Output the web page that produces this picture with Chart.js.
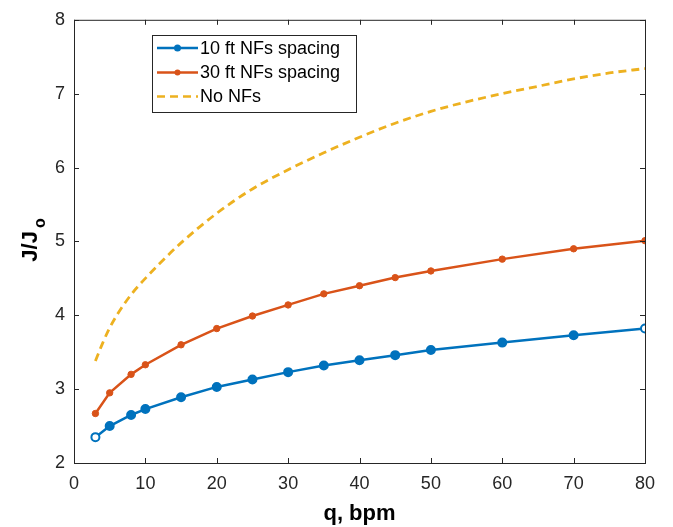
<!DOCTYPE html>
<html>
<head>
<meta charset="utf-8">
<script src="https://cdn.jsdelivr.net/npm/chart.js@4/dist/chart.umd.min.js"></script>
<style>
html,body{margin:0;padding:0;background:#fff;}
#wrap{width:673px;height:527px;position:relative;}
</style>
</head>
<body>
<div id="wrap"><canvas id="c" width="673" height="527"></canvas></div>
<script>
const qNF = [3, 5, 8, 10, 15, 20, 25, 30, 35, 40, 45, 50, 60, 70, 80];
const spacing10 = [2.35, 2.50, 2.65, 2.73, 2.89, 3.03, 3.13, 3.23, 3.32, 3.39, 3.46, 3.53, 3.63, 3.73, 3.82];
const spacing30 = [2.67, 2.95, 3.20, 3.33, 3.60, 3.82, 3.99, 4.14, 4.29, 4.40, 4.51, 4.60, 4.76, 4.90, 5.01];
const qNo = [3, 4, 5, 6, 8, 10, 12, 15, 20, 25, 30, 35, 40, 45, 50, 55, 60, 65, 70, 75, 80];
const noNF = [3.38, 3.62, 3.83, 4.00, 4.28, 4.50, 4.70, 4.98, 5.38, 5.71, 5.97, 6.20, 6.41, 6.60, 6.76, 6.89, 7.00, 7.10, 7.20, 7.28, 7.34];
const xTicks = [0, 10, 20, 30, 40, 50, 60, 70, 80];
const yTicks = [2, 3, 4, 5, 6, 7, 8];
const seriesNames = ['10 ft NFs spacing', '30 ft NFs spacing', 'No NFs'];
const yTitleMain = 'J/J';
const yTitleSub = 'o';
const xTitle = 'q, bpm';

const BLUE = '#0072BD', ORANGE = '#D95319', YELLOW = '#EDB120';
const FONT = '"Liberation Sans", Arial, sans-serif';
const pts = (xs, ys) => xs.map((x, i) => ({x: x, y: ys[i]}));

const blueFill = qNF.map((_, i) => (i === 0 || i === qNF.length - 1) ? '#ffffff' : BLUE);

const boxPlugin = {
  id: 'boxPlugin',
  afterDatasetsDraw(chart) {
    const {ctx, chartArea: a, scales} = chart;
    ctx.save();
    ctx.strokeStyle = '#262626';
    ctx.lineWidth = 1;
    ctx.strokeRect(a.left + 0.5, a.top + 0.5, a.right - a.left, a.bottom - a.top);
    const L = 5;
    ctx.beginPath();
    xTicks.forEach(v => {
      const x = Math.round(scales.x.getPixelForValue(v)) + 0.5;
      ctx.moveTo(x, a.bottom); ctx.lineTo(x, a.bottom - L);
      ctx.moveTo(x, a.top); ctx.lineTo(x, a.top + L);
    });
    yTicks.forEach(v => {
      const y = Math.round(scales.y.getPixelForValue(v)) + 0.5;
      ctx.moveTo(a.left, y); ctx.lineTo(a.left + L, y);
      ctx.moveTo(a.right, y); ctx.lineTo(a.right - L, y);
    });
    ctx.stroke();

    // legend
    const lx = 152, ly = 35, lw = 204, lh = 77;
    ctx.fillStyle = '#ffffff';
    ctx.fillRect(lx, ly, lw, lh);
    ctx.strokeStyle = '#262626';
    ctx.strokeRect(lx + 0.5, ly + 0.5, lw, lh);
    const rows = [48, 72.5, 96.5];
    const cols = [BLUE, ORANGE, YELLOW];
    rows.forEach((ry, i) => {
      ctx.beginPath();
      ctx.strokeStyle = cols[i];
      ctx.lineWidth = 2.5;
      ctx.setLineDash(i === 2 ? [8, 5] : []);
      ctx.moveTo(157, ry); ctx.lineTo(198, ry);
      ctx.stroke();
      ctx.setLineDash([]);
      if (i < 2) {
        ctx.beginPath();
        ctx.fillStyle = cols[i];
        ctx.arc(177.5, ry, i === 0 ? 3.5 : 3, 0, Math.PI * 2);
        ctx.fill();
      }
      ctx.fillStyle = '#000000';
      ctx.font = '18px ' + FONT;
      ctx.textBaseline = 'middle';
      ctx.textAlign = 'left';
      ctx.fillText(seriesNames[i], 200, ry + 1);
    });

    // y title with subscript
    ctx.save();
    ctx.translate(37, 240);
    ctx.rotate(-Math.PI / 2);
    ctx.fillStyle = '#000';
    ctx.textBaseline = 'alphabetic';
    ctx.font = 'bold 22px ' + FONT;
    const w1 = ctx.measureText(yTitleMain).width;
    ctx.font = 'bold 16px ' + FONT;
    const w2 = ctx.measureText(yTitleSub).width;
    const start = -(w1 + w2 + 3) / 2;
    ctx.font = 'bold 22px ' + FONT;
    ctx.textAlign = 'left';
    ctx.fillText(yTitleMain, start, 0);
    ctx.font = 'bold 16px ' + FONT;
    ctx.fillText(yTitleSub, start + w1 + 3, 8);
    ctx.restore();

    // x title
    ctx.fillStyle = '#000';
    ctx.font = 'bold 22px ' + FONT;
    ctx.textAlign = 'center';
    ctx.textBaseline = 'alphabetic';
    ctx.fillText(xTitle, (a.left + a.right) / 2, 520);
    ctx.restore();
  }
};

new Chart(document.getElementById('c'), {
  type: 'scatter',
  data: {
    datasets: [
      {
        label: seriesNames[0],
        data: pts(qNF, spacing10),
        showLine: true,
        borderColor: BLUE,
        borderWidth: 2.5,
        pointBackgroundColor: blueFill,
        pointBorderColor: BLUE,
        pointBorderWidth: 2,
        pointRadius: 4,
        tension: 0
      },
      {
        label: seriesNames[1],
        data: pts(qNF, spacing30),
        showLine: true,
        borderColor: ORANGE,
        borderWidth: 2.5,
        pointBackgroundColor: ORANGE,
        pointBorderColor: ORANGE,
        pointRadius: 3.2,
        pointBorderWidth: 1,
        tension: 0
      },
      {
        label: seriesNames[2],
        data: pts(qNo, noNF),
        showLine: true,
        borderColor: YELLOW,
        borderWidth: 2.8,
        borderDash: [8, 5],
        pointRadius: 0,
        cubicInterpolationMode: 'monotone'
      }
    ]
  },
  options: {
    responsive: false,
    animation: false,
    layout: {padding: {left: 0, top: 14, right: 28, bottom: 0}},
    plugins: {legend: {display: false}, tooltip: {enabled: false}},
    scales: {
      x: {
        type: 'linear', min: 0, max: 80,
        afterBuildTicks: s => { s.ticks = xTicks.map(v => ({value: v})); },
        afterFit: s => { s.height = 64; },
        grid: {display: false, drawTicks: false},
        border: {display: false},
        ticks: {color: '#262626', font: {size: 18, family: FONT}, padding: 10, maxRotation: 0}
      },
      y: {
        type: 'linear', min: 2, max: 8,
        afterBuildTicks: s => { s.ticks = yTicks.map(v => ({value: v})); },
        afterFit: s => { s.width = 74; },
        grid: {display: false, drawTicks: false},
        border: {display: false},
        ticks: {color: '#262626', font: {size: 18, family: FONT}, padding: 9}
      }
    }
  },
  plugins: [boxPlugin]
});
</script>
</body>
</html>
